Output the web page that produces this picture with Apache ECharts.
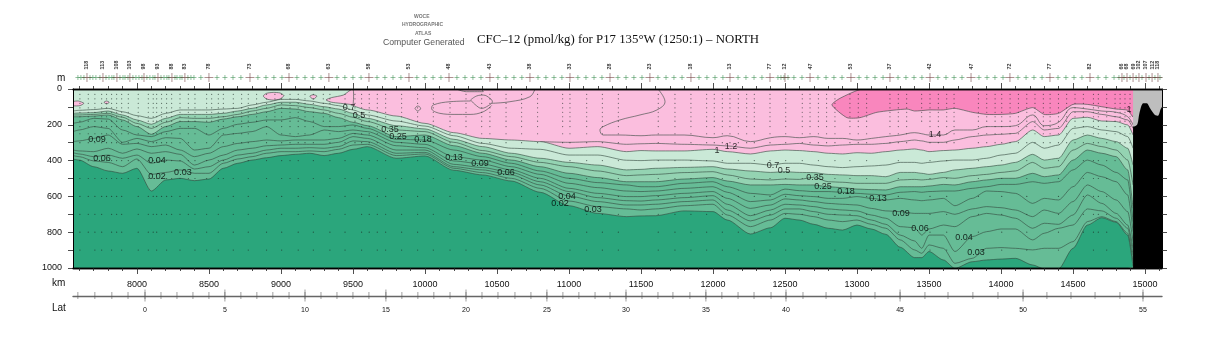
<!DOCTYPE html>
<html>
<head>
<meta charset="utf-8">
<title>CFC-12 P17 north</title>
<script src="https://cdn.jsdelivr.net/npm/echarts@6/dist/echarts.min.js"></script>
<style>
  html, body { margin: 0; background: #fff; }
  #chart { width: 1215px; height: 350px; }
</style>
</head>
<body>
<div id="chart"></div>
<script>
// section nodes (km) shared by the contours
const kmNodes = [7556,7600,7700,7800,7900,8000,8100,8200,8300,8400,8500,8600,8700,8800,8900,9000,9100,9200,9300,9400,9500,9600,9800,10000,10200,10400,10600,10800,11000,11200,11400,11500,11600,11800,12000,12100,12260,12400,12500,12600,12700,12800,12900,13000,13100,13200,13300,13400,13450,13500,13600,13680,13800,13900,14000,14100,14220,14300,14400,14500,14600,14700,14800,14880,14917];

// contour depths (m)
const depth07 = [123,119,115,108,127,149,164,136,117,117,117,112,108,89,74,58,58,67,80,93,117,145,179,207,261,304,331,337,369,369,398,400,397,397,402,415,415,425,415,415,425,434,439,434,430,425,410,410,415,410,402,397,397,387,369,359,298,331,313,220,210,229,238,266,331];
const depth05 = [136,134,132,123,145,173,197,164,142,142,142,136,123,108,89,74,74,86,99,112,136,164,205,223,281,322,359,387,410,425,452,449,443,438,434,447,458,466,462,466,467,477,480,484,484,490,466,466,471,477,466,452,443,434,425,410,365,397,387,285,257,276,294,331,425];
const depth035 = [145,145,142,136,158,192,220,186,160,164,164,155,142,123,108,89,93,104,117,136,158,182,229,238,298,344,378,410,434,458,484,480,477,467,462,480,503,508,503,505,493,518,521,527,527,527,508,505,508,505,495,499,484,477,466,458,410,443,434,341,304,322,341,397,536];
const depth025 = [155,155,151,145,173,210,253,210,182,182,186,168,155,142,127,108,112,127,136,160,186,205,266,257,317,359,397,434,471,495,518,518,518,503,495,514,536,536,533,536,536,546,551,559,562,564,546,546,546,542,533,536,518,508,499,499,471,490,480,397,341,359,378,452,667];
const depth018 = [192,186,164,168,229,257,266,238,220,220,257,220,197,186,173,173,160,182,210,210,201,220,281,285,341,378,415,458,499,523,536,546,546,527,518,546,583,592,559,568,573,573,577,583,588,592,577,573,577,573,570,570,555,546,533,533,518,527,518,452,397,425,466,508,741];
const depth013 = [238,229,210,220,298,276,294,272,276,341,331,257,248,238,210,257,266,257,229,238,229,238,298,309,378,397,434,477,527,551,570,573,570,555,546,577,629,620,588,596,601,611,611,601,611,620,611,620,624,620,611,652,611,570,573,583,639,611,620,546,466,490,518,592,797];
const depth009 = [294,290,276,257,309,304,322,313,341,378,359,322,304,294,285,290,285,285,285,276,248,257,317,328,402,419,452,499,555,583,601,601,596,583,573,611,667,648,614,620,629,639,644,648,667,681,685,695,695,695,685,700,670,657,663,676,713,676,695,629,536,573,620,685,853];
const depth006 = [341,346,350,331,359,335,359,350,365,425,397,369,341,331,317,313,309,309,309,298,266,276,341,341,421,439,466,518,573,607,624,626,620,607,596,644,708,676,644,648,657,670,676,681,704,722,769,775,816,782,760,769,713,695,704,722,778,750,756,704,592,639,695,760,890];
const depth004 = [356,363,378,369,387,369,415,397,402,447,434,397,369,359,341,331,331,328,331,322,290,294,359,354,434,452,480,536,598,629,648,648,644,629,620,676,737,704,670,670,685,700,704,708,732,756,816,849,890,816,816,908,825,797,782,782,843,806,778,760,670,681,722,778,927];
const depth003 = [372,378,402,410,434,391,477,466,452,471,471,415,391,378,359,350,350,346,350,337,313,309,372,363,443,467,499,555,626,657,670,676,670,652,644,704,769,732,695,700,713,732,741,732,756,778,843,899,918,871,890,974,946,890,886,890,899,890,890,853,741,713,741,806,965];
const depth002 = [391,397,434,458,471,443,570,508,499,512,503,443,415,397,384,372,365,359,372,359,337,322,387,374,454,480,514,577,652,695,713,709,708,681,685,732,810,775,722,732,756,778,788,760,782,812,884,942,942,908,955,1002,965,955,950,946,983,1005,1005,890,760,719,745,816,992];

const km10 = [7556,9500,9500,9600,9800,10000,10200,10400,10600,10800,11000,11200,11400,11500,11600,11800,12000,12100,12260,12400,12500,12600,12700,12800,12900,13000,13100,13200,13300,13400,13450,13500,13600,13680,13800,13900,14000,14100,14220,14300,14400,14500,14600,14700,14800,14880,14917];
const depth10 = [0,0,93,117,151,192,244,276,285,294,331,322,350,344,346,346,337,350,363,346,341,344,350,359,363,356,359,350,341,335,341,350,344,341,331,322,309,294,229,266,257,164,158,179,182,201,257];

const km12 = km10.slice(9);
const depth12 = [294,298,294,309,306,304,309,313,318,331,313,309,304,313,318,313,309,309,304,294,285,290,298,298,285,266,257,253,248,182,229,220,127,127,142,155,173,220];

const km14 = [11618,11667,11611,11493,11354,11238,11215,11238,11354].concat(km10.slice(13));
const depth14 = [0,71,117,145,173,210,229,257,257,261,257,257,272,261,294,272,266,272,266,276,276,285,276,266,257,244,250,257,257,229,229,210,210,205,145,205,186,104,112,123,130,155,201];

// dark pink patch (> 1.6)
const patch16Km = [13042,12882,12826,12930,13021,13139,13347,13400,13500,13600,13680,13800,13900,14000,14100,14220,14300,14400,14500,14600,14700,14800,14880,14917,14917];
const patch16Depth = [0,52,89,160,160,130,112,123,117,117,108,130,142,142,136,104,142,136,86,86,99,112,119,155,0];

// pink patches in the light green surface layer
const tongueKm = [9500,9433,9352,9313,9352,9479,9500];
const tongueDepth = [0,34,48,61,74,86,93];
const patchAKm = [8877,8900,8947,8993,9021,8993,8947,8900];
const patchADepth = [39,24,19,22,37,56,62,56];
const patchBKm = [9201,9225,9250,9229,9213];
const patchBDepth = [39,32,39,56,52];
const patchCKm = [7556,7593,7632,7604,7556];
const patchCDepth = [71,67,80,93,93];
const patchDKm = [7771,7789,7808,7789];
const patchDDepth = [74,67,74,84];

// closed and open 1.4 lines inside the pink layer
const loopAKm = [10317,10359,10405,10451,10468,10440,10394,10347,10317];
const loopADepth = [61,39,34,52,71,93,108,86,61];
const loopBKm = [9931,9949,9970,9949,9931];
const loopBDepth = [108,95,108,123,108];
const loopCKm = [10764,10729,10590,10463];
const loopCDepth = [0,43,71,80];
const loopDKm = [10317,10174,10058,10046,10104,10208,10313,10405,10463];
const loopDDepth = [67,71,89,108,136,142,142,127,93];
const loopEKm = [10220,10289,10405,10394];
const loopEDepth = [0,15,15,0];

// sea floor east of the last station
const floorKm = [14917,14924,14947,14961,14988,15012,15035,15069,15090,15109,15118];
const floorDepth = [210,210,197,136,80,80,108,145,149,112,99];

// contour labels
const labelText = ["0.09","0.06","0.04","0.02","0.03","0.7","0.5","0.35","0.25","0.18","0.13","0.09","0.06","0.04","0.02","0.03","1","1.2","0.7","0.5","0.35","0.25","0.18","0.13","0.09","0.06","0.04","0.03","1.4","1"];
const labelKm = [7722,7757,8139,8139,8319,9472,9542,9757,9813,9986,10201,10382,10563,10986,10937,11167,12028,12125,12417,12493,12708,12764,12924,13146,13305,13437,13743,13826,13542,14889];
const labelDepth = [285,387,402,490,466,104,149,229,263,285,384,419,466,598,642,676,341,320,425,458,493,542,573,614,698,782,830,914,253,117];

// sample dots: cast position and deepest sample
const bottleDepths = [30,55,80,105,130,155,180,210,250,300,400,500,600,700,800,900];
const castKm = [7604,7662,7708,7755,7789,7824,7859,7894,7940,8009,8079,8113,8137,8171,8206,8241,8299,8357,8403,8484,8519,8565,8600,8669,8727,8773,8831,8900,8958,9005,9063,9120,9167,9225,9294,9340,9445,9514,9560,9613,9669,9727,9838,9949,10058,10174,10285,10394,10451,10563,10671,10782,10956,11007,11123,11232,11343,11620,11736,11847,11956,12009,12065,12118,12176,12234,12287,12396,12505,12620,12674,12732,12789,12847,12951,13009,13067,13229,13287,13345,13449,13507,13565,13623,13674,13843,13901,13959,14005,14063,14121,14179,14236,14294,14341,14399,14456,14514,14572,14642,14676,14734,14792,14827,14861,14896];
const castTo = [900,800,900,900,600,900,800,900,500,900,900,800,900,700,900,800,900,800,900,900,200,900,500,900,300,900,200,900,200,900,500,900,300,900,200,900,900,300,900,800,900,900,900,900,900,900,900,900,800,900,900,900,300,900,900,900,900,900,900,900,900,300,900,300,900,300,900,900,900,900,300,900,300,900,900,300,900,300,900,300,200,900,300,900,300,900,300,300,900,300,300,900,300,300,300,900,300,300,800,900,800,900,400,300,300,300];

// station row above the plot
const stationMajorKm = [7653,7764,7861,7951,8049,8146,8243,8333,8500,8785,9056,9333,9611,9889,10167,10451,10729,11007,11285,11562,11847,12118,12396,12500,12674,12958,13229,13507,13792,14062,14340,14618,14840,14875,14917,14958,15007,15049,15090];
const stationLabels = ["118","113","108","103","98","93","88","83","78","73","68","63","58","53","48","43","38","33","28","23","18","13","77","12","47","53","37","42","47","72","77","82","66","68","69","102","107","112","118"];
const stationMinorKm = [7590,7611,7632,7674,7694,7715,7743,7785,7806,7826,7840,7882,7903,7917,7938,7972,7993,8014,8035,8069,8090,8111,8125,8167,8188,8208,8222,8264,8278,8299,8313,8354,8375,8396,8444,8556,8611,8667,8722,8840,8896,8951,9007,9111,9167,9222,9278,9389,9444,9500,9556,9667,9722,9778,9833,9944,10000,10056,10111,10222,10278,10333,10389,10507,10562,10618,10673,10785,10840,10896,10951,11062,11118,11174,11229,11340,11396,11451,11507,11618,11674,11729,11785,11903,11958,12014,12069,12174,12229,12285,12340,12451,12472,12493,12521,12562,12618,12729,12785,12840,12896,13014,13069,13125,13181,13285,13340,13396,13451,13562,13618,13674,13729,13847,13903,13958,14014,14118,14174,14229,14285,14396,14451,14507,14562,14674,14729,14785,14819,14854,14896,14938,14979,15028,15069,15104];

// latitude scale, one tick per degree from 4S to 55N
const latTickKm = [7590,7708,7826,7938,8056,8167,8278,8389,8500,8611,8722,8833,8944,9056,9167,9278,9389,9500,9611,9729,9840,9951,10062,10174,10285,10396,10507,10625,10736,10847,10958,11069,11181,11285,11396,11507,11618,11722,11840,11951,12062,12174,12285,12403,12507,12625,12785,12958,13125,13299,13472,13632,13805,13979,14153,14319,14486,14653,14826,14986];
const latLabels = [0,5,10,15,20,25,30,35,40,45,50,55];
const latLabelKm = [8056,8611,9167,9729,10285,10847,11396,11951,12507,13299,14153,14986];

const kmTickLabels = [8000,8500,9000,9500,10000,10500,11000,11500,12000,12500,13000,13500,14000,14500,15000];
const kmMinorTicks = [7600,7700,7800,7900,8100,8200,8300,8400,8600,8700,8800,8900,9100,9200,9300,9400,9600,9700,9800,9900,10100,10200,10300,10400,10600,10700,10800,10900,11100,11200,11300,11400,11600,11700,11800,11900,12100,12200,12300,12400,12600,12700,12800,12900,13100,13200,13300,13400,13600,13700,13800,13900,14100,14200,14300,14400,14600,14700,14800,14900,15100];
const depthTicks = [0,100,200,300,400,500,600,700,800,900,1000];
const depthTickLabels = [0,200,400,600,800,1000];

const colors = {
  pink: "#FBBEDE",
  darkPink: "#F986BD",
  pale: "#CAE9D7",
  light: "#94D3B2",
  mid: "#66BC96",
  deep: "#2BA67C",
  floor: "#000000",
  land: "#BEBEBE",
  contour: "#33463d",
};
const KM_MIN = 7556;
const KM_MAX = 15118;
const FONT = "Liberation Sans";

const zip = (a, b) => a.map((v, i) => [v, b[i]]);
let order = 2;

function contour(km, depth, fill) {
  const s = {
    type: "line",
    data: zip(km, depth),
    symbol: "none",
    smooth: 0.25,
    smoothMonotone: "x",
    silent: true,
    z: order++,
    lineStyle: { color: colors.contour, width: 0.6 },
  };
  if (fill) s.areaStyle = { color: fill, opacity: 1, origin: "end" };
  return s;
}

function patch(km, depth, fill, stroke) {
  const pts = zip(km, depth);
  return {
    type: "custom",
    data: pts,
    silent: true,
    clip: true,
    z: order++,
    encode: { x: 0, y: 1 },
    renderItem: (p, api) => {
      if (p.dataIndex !== 0) return;
      return {
        type: "polygon",
        shape: { points: pts.map((q) => api.coord(q)), smooth: 0.2 },
        style: { fill, stroke, lineWidth: 0.6 },
      };
    },
  };
}

function freeLine(km, depth) {
  return {
    type: "line",
    data: zip(km, depth),
    symbol: "none",
    smooth: 0.4,
    silent: true,
    z: order++,
    lineStyle: { color: colors.contour, width: 0.6 },
  };
}

const series = [
  patch(patch16Km, patch16Depth, colors.darkPink, colors.contour),
  freeLine(km14, depth14),
  freeLine(loopAKm, loopADepth),
  freeLine(loopBKm, loopBDepth),
  freeLine(loopCKm, loopCDepth),
  freeLine(loopDKm, loopDDepth),
  freeLine(loopEKm, loopEDepth),
  contour(km12, depth12),
  // the 1.0 band: fill starts at the surface, its line only east of 9500 km
  Object.assign(contour(km10, depth10, colors.pale), { lineStyle: { width: 0, opacity: 0 } }),
  contour(km10.slice(2), depth10.slice(2)),
  patch(tongueKm, tongueDepth, colors.pink, colors.contour),
  patch(patchAKm, patchADepth, colors.pink, colors.contour),
  patch(patchBKm, patchBDepth, colors.pink, colors.contour),
  patch(patchCKm, patchCDepth, colors.pink, colors.contour),
  patch(patchDKm, patchDDepth, colors.pink, colors.contour),
  contour(kmNodes, depth07),
  contour(kmNodes, depth05, colors.light),
  contour(kmNodes, depth035),
  contour(kmNodes, depth025, colors.mid),
  contour(kmNodes, depth018),
  contour(kmNodes, depth013),
  contour(kmNodes, depth009),
  contour(kmNodes, depth006),
  contour(kmNodes, depth004),
  contour(kmNodes, depth003),
  contour(kmNodes, depth002, colors.deep),
  {
    type: "scatter",
    data: castKm.flatMap((km, i) => bottleDepths.filter((d) => d <= castTo[i]).map((d) => [km, d])),
    symbolSize: 1.2,
    silent: true,
    z: order++,
    itemStyle: { color: "#1d2b25", opacity: 0.7 },
  },
  {
    type: "line",
    data: [[14917, 1000], [KM_MAX, 1000]],
    symbol: "none",
    silent: true,
    z: order++,
    lineStyle: { width: 0 },
    areaStyle: { color: colors.land, opacity: 1, origin: "start" },
  },
  {
    type: "line",
    data: zip(floorKm, floorDepth),
    symbol: "none",
    smooth: 0.3,
    silent: true,
    z: order++,
    lineStyle: { width: 0 },
    areaStyle: { color: colors.floor, opacity: 1, origin: "end" },
  },
  {
    type: "scatter",
    data: labelKm.map((km, i) => [km, labelDepth[i], labelText[i]]),
    symbolSize: 1,
    silent: true,
    z: order++,
    itemStyle: { color: "transparent" },
    label: {
      show: true,
      position: "inside",
      formatter: (p) => p.data[2],
      color: "#000",
      fontFamily: FONT,
      fontSize: 9,
    },
    labelLayout: { hideOverlap: false },
  },
  // station crosses
  {
    type: "scatter",
    xAxisIndex: 4,
    yAxisIndex: 2,
    data: stationMinorKm.map((km) => [km, 0.5]),
    symbol: "path://M0,-1V1M-1,0H1",
    symbolSize: 5,
    silent: true,
    itemStyle: { color: "none", borderColor: "#3f8f55", borderWidth: 0.7 },
  },
  {
    type: "scatter",
    xAxisIndex: 4,
    yAxisIndex: 2,
    data: stationMajorKm.map((km) => [km, 0.5]),
    symbol: "path://M0,-1V1M-1,0H1",
    symbolSize: 9,
    silent: true,
    itemStyle: { color: "none", borderColor: "#6d3a3a", borderWidth: 0.7 },
  },
  // station numbers, on their own row above the crosses
  {
    type: "scatter",
    xAxisIndex: 6,
    yAxisIndex: 4,
    data: stationMajorKm.map((km, i) => [km, 0.5, stationLabels[i]]),
    symbolSize: 1,
    silent: true,
    itemStyle: { color: "transparent" },
    label: {
      show: true,
      position: "inside",
      rotate: 90,
      align: "left",
      verticalAlign: "middle",
      formatter: (p) => p.data[2],
      color: "#000",
      fontFamily: FONT,
      fontWeight: "bold",
      fontSize: 5.4,
    },
    labelLayout: { hideOverlap: false },
  },
  // latitude ticks crossing the scale line
  {
    type: "scatter",
    xAxisIndex: 5,
    yAxisIndex: 3,
    data: latTickKm.map((km) => [km, 0.5]),
    symbol: "rect",
    symbolSize: [0.7, 7],
    silent: true,
    itemStyle: { color: "#555" },
  },
  {
    type: "scatter",
    xAxisIndex: 5,
    yAxisIndex: 3,
    data: latLabelKm.map((km) => [km, 0.5]),
    symbol: "rect",
    symbolSize: [0.7, 12],
    silent: true,
    itemStyle: { color: "#555" },
  },
];

function kmAxis(position, ticks, length, labels) {
  return {
    type: "value",
    gridIndex: 0,
    position,
    min: KM_MIN,
    max: KM_MAX,
    z: 200,
    splitLine: { show: false },
    axisLine: { show: true, onZero: false, lineStyle: { color: "#000", width: 1.4 } },
    axisTick: { show: true, length, customValues: ticks, lineStyle: { color: "#222", width: 0.8 } },
    axisLabel: labels
      ? { show: true, margin: 12, color: "#111", fontFamily: FONT, fontSize: 9, customValues: labels, formatter: (v) => String(v) }
      : { show: false },
  };
}

function depthAxis(position, labels) {
  return {
    type: "value",
    gridIndex: 0,
    position,
    inverse: true,
    min: 0,
    max: 1000,
    z: 200,
    splitLine: { show: false },
    axisLine: { show: true, onZero: false, lineStyle: { color: "#000", width: 1 } },
    axisTick: { show: true, length: 5, customValues: depthTicks, lineStyle: { color: "#222", width: 0.8 } },
    axisLabel: labels
      ? { show: true, margin: 11, color: "#111", fontFamily: FONT, fontSize: 9, customValues: labels, formatter: (v) => String(v) }
      : { show: false },
  };
}

function hiddenY(gridIndex) {
  return { type: "value", gridIndex, min: 0, max: 1, show: false };
}

const option = {
  animation: false,
  backgroundColor: "#fff",
  grid: [
    { left: 73, top: 89, width: 1089, height: 179, show: true, backgroundColor: colors.pink, borderWidth: 0 },
    { left: 73, top: 77, width: 1089, height: 1 },
    { left: 73, top: 295, width: 1089, height: 1 },
    { left: 73, top: 69, width: 1089, height: 1 },
  ],
  xAxis: [
    kmAxis("bottom", kmTickLabels, 6, kmTickLabels),
    kmAxis("bottom", kmMinorTicks, 3),
    kmAxis("top", kmTickLabels, 6),
    kmAxis("top", kmMinorTicks, 3),
    { type: "value", gridIndex: 1, min: KM_MIN, max: KM_MAX, show: false },
    {
      type: "value",
      gridIndex: 2,
      min: KM_MIN,
      max: KM_MAX,
      position: "bottom",
      splitLine: { show: false },
      axisLine: { show: true, onZero: false, lineStyle: { color: "#666", width: 1.4 } },
      axisTick: { show: false },
      axisLabel: {
        show: true,
        margin: 11,
        customValues: latLabelKm,
        formatter: (v) => String(latLabels[latLabelKm.indexOf(v)]),
        color: "#111",
        fontFamily: FONT,
        fontSize: 7,
      },
    },
    { type: "value", gridIndex: 3, min: KM_MIN, max: KM_MAX, show: false },
  ],
  yAxis: [depthAxis("left", depthTickLabels), depthAxis("right"), hiddenY(1), hiddenY(2), hiddenY(3)],
  series,
  graphic: [
    { type: "text", left: 477, top: 33, style: { text: "CFC\u201312 (pmol/kg) for P17 135\u00b0W (1250:1) \u2013 NORTH", font: '12.8px "Liberation Serif"', fill: "#111" } },
    { type: "text", left: 383, top: 38, style: { text: "Computer Generated", font: "8.7px " + FONT, fill: "#555" } },
    { type: "text", left: 414, top: 14, style: { text: "WOCE", font: "bold 5px " + FONT, fill: "#777" } },
    { type: "text", left: 402, top: 22, style: { text: "HYDROGRAPHIC", font: "bold 5px " + FONT, fill: "#777" } },
    { type: "text", left: 415, top: 31, style: { text: "ATLAS", font: "bold 5px " + FONT, fill: "#777" } },
    { type: "text", left: 57, top: 73, style: { text: "m", font: "10px " + FONT, fill: "#111" } },
    { type: "text", left: 52, top: 278, style: { text: "km", font: "10px " + FONT, fill: "#111" } },
    { type: "text", left: 52, top: 303, style: { text: "Lat", font: "10px " + FONT, fill: "#111" } },
  ],
};

const chart = echarts.init(document.getElementById("chart"));
chart.setOption(option);
</script>
</body>
</html>
